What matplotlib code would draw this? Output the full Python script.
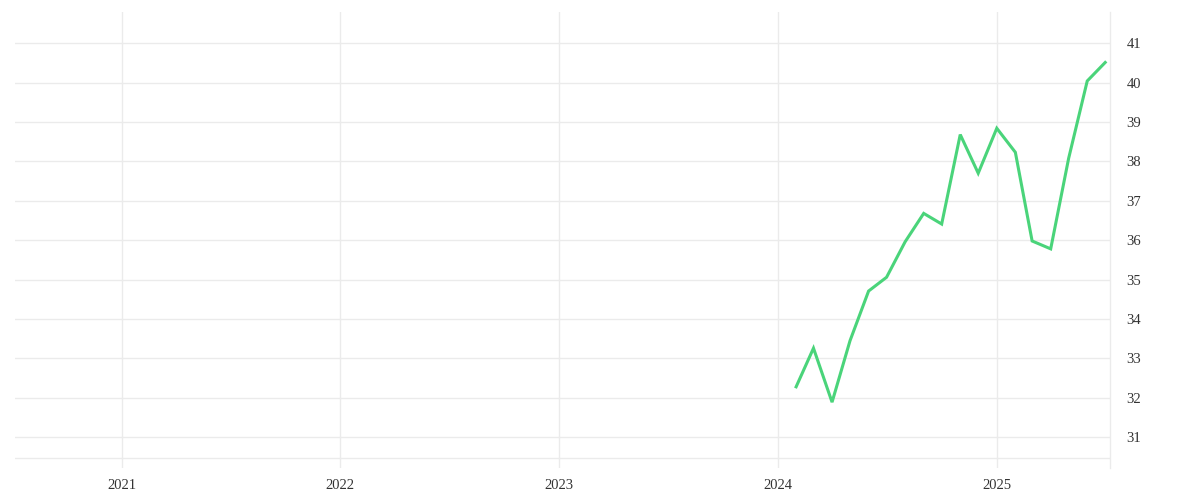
import datetime as dt

import matplotlib
matplotlib.use("Agg")
import matplotlib.dates as mdates
from matplotlib import pyplot as plt

# monthly values, Feb 2024 .. Jul 2025
months = [dt.date(2024, m, 1) for m in range(2, 13)] + [dt.date(2025, m, 1) for m in range(1, 8)]
values = [32.28, 33.26, 31.89, 33.45, 34.71, 35.06, 35.96, 36.68, 36.41,
          38.68, 37.70, 38.84, 38.23, 35.98, 35.78, 38.08, 40.04, 40.51]

year_ticks = [dt.date(y, 1, 1) for y in range(2021, 2026)]
year_labels = ["2021", "2022", "2023", "2024", "2025"]
y_ticks = list(range(31, 42))

grid_col = "#ebebeb"
text_col = "#333333"

plt.rcParams["font.family"] = ["Liberation Serif", "DejaVu Serif"]

fig = plt.figure(figsize=(12, 5), dpi=100)
ax = fig.add_axes([0.0125, 0.064, 0.9125, 0.912])

ax.plot(months, values, color="#4ad47a", linewidth=2.2, solid_joinstyle="miter", zorder=3)

ax.set_xlim(dt.date(2020, 7, 7), dt.date(2025, 7, 9))
ax.set_ylim(30.22, 41.79)

ax.set_xticks([mdates.date2num(d) for d in year_ticks])
ax.set_xticklabels(year_labels)
ax.set_yticks(y_ticks)
ax.yaxis.tick_right()

ax.grid(True, color=grid_col, linewidth=1)
ax.axhline(30.47, color=grid_col, linewidth=1, zorder=1)
ax.set_axisbelow(True)

for side in ["top", "left", "bottom"]:
    ax.spines[side].set_visible(False)
ax.spines["right"].set_color(grid_col)
ax.spines["right"].set_linewidth(1)

ax.tick_params(axis="both", length=0, labelsize=10.5, colors=text_col)
ax.tick_params(axis="y", pad=12)
ax.tick_params(axis="x", pad=8)

fig.savefig("out.png", dpi=100)
